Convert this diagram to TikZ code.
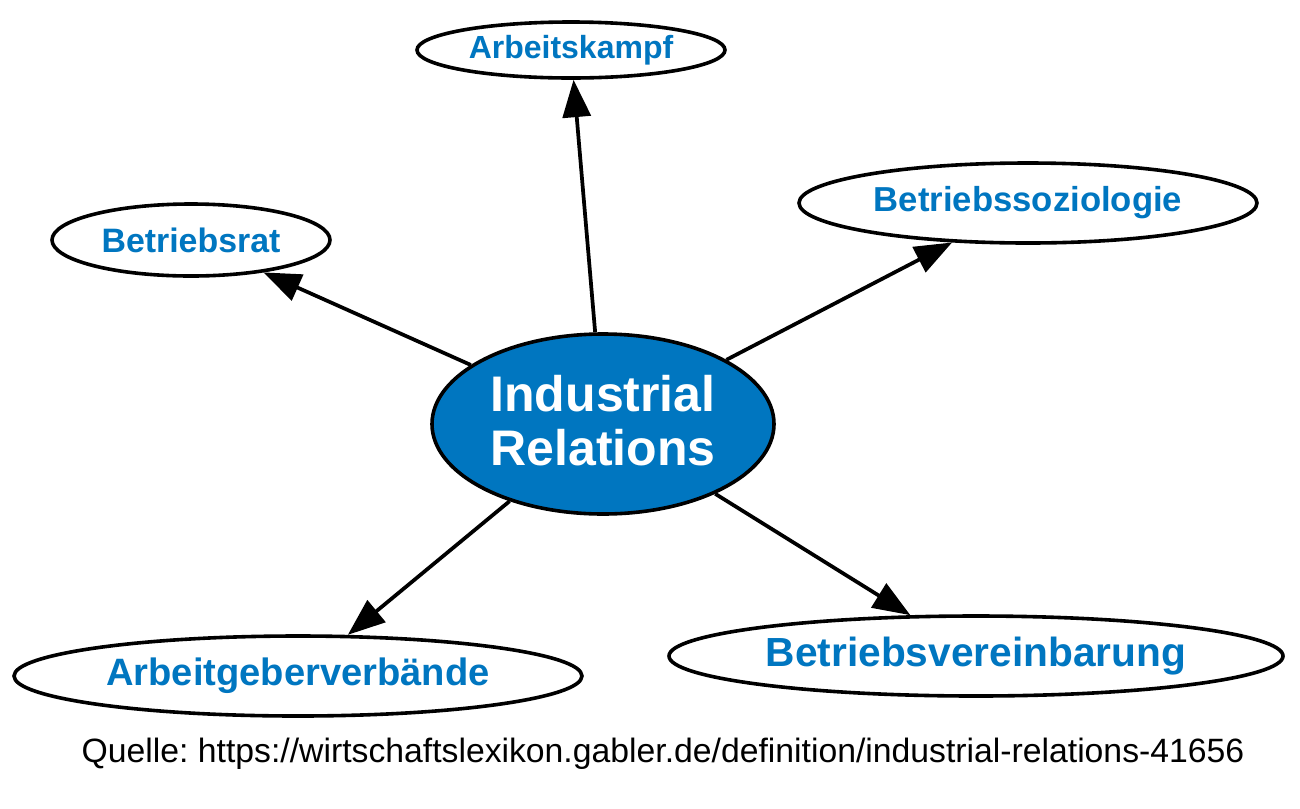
\documentclass[tikz,border=0pt]{standalone}
\usepackage{fontspec}
\setmainfont{Liberation Sans}
\frenchspacing
\usetikzlibrary{shapes.geometric,arrows.meta}
\definecolor{irblue}{RGB}{0,118,192}
\tikzset{
  leaf/.style={ellipse, draw=black, line width=2.7pt, fill=white, inner sep=0pt,
    text=irblue, font=\bfseries},
  hub/.style={ellipse, draw=black, line width=2.7pt, fill=irblue, inner sep=0pt,
    text=white, font=\bfseries\fontsize{37.5}{40.5}\selectfont, align=center},
  conn/.style={line width=2.8pt, -{Triangle[length=28pt,width=21pt]}},
}
\begin{document}
\begin{tikzpicture}[x=0.75pt,y=-0.75pt]
\useasboundingbox (0,0) rectangle (1300,808);
\node[hub, minimum width=256.5pt, minimum height=135pt, text depth=6pt] (ir) at (603,424) {Industrial\\Relations};
\node[leaf, minimum width=231pt, minimum height=42pt, font=\bfseries\fontsize{24}{28}\selectfont] (ak) at (571,50) {Arbeitskampf};
\node[leaf, minimum width=343.5pt, minimum height=60pt, font=\bfseries\fontsize{26}{30}\selectfont] (bs) at (1028,203) {Betriebssoziologie};
\node[leaf, minimum width=208.5pt, minimum height=54pt, font=\bfseries\fontsize{25.4}{30}\selectfont] (br) at (191,240) {Betriebsrat};
\node[leaf, minimum width=426pt, minimum height=60pt, font=\bfseries\fontsize{28.6}{32}\selectfont] (agv) at (298,676) {Arbeitgeberverbände};
\node[leaf, minimum width=460.5pt, minimum height=60pt, font=\bfseries\fontsize{30.5}{34}\selectfont] (bv) at (976,656) {Betriebsvereinbarung};
\draw[conn] (ir) -- (ak);
\draw[conn] (ir) -- (bs);
\draw[conn] (ir) -- (br);
\draw[conn] (ir) -- (agv);
\draw[conn] (ir) -- (bv);
\node[font=\fontsize{25.3}{28}\selectfont, anchor=base] (src) at (663,762) {Quelle: https://wirtschaftslexikon.gabler.de/definition/industrial-relations-41656};
\end{tikzpicture}
\end{document}
